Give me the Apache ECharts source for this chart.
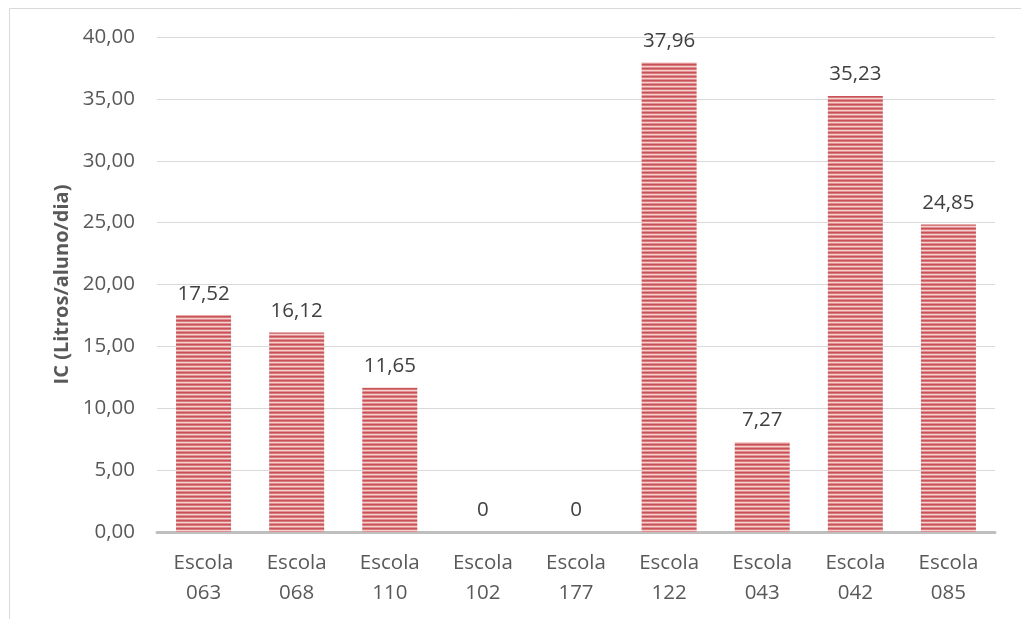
<!DOCTYPE html>
<html>
<head>
<meta charset="utf-8">
<script src="https://cdn.jsdelivr.net/npm/echarts@6/dist/echarts.min.js"></script>
<style>html,body{margin:0;padding:0;background:#fff;}#c{width:1021px;height:619px;}</style>
</head>
<body>
<div id="c"></div>
<script>
var categories = ['Escola\n063','Escola\n068','Escola\n110','Escola\n102','Escola\n177','Escola\n122','Escola\n043','Escola\n042','Escola\n085'];
var values = [17.52, 16.12, 11.65, 0, 0, 37.96, 7.27, 35.23, 24.85];
var yTicks = [0, 5, 10, 15, 20, 25, 30, 35, 40];

var pc = document.createElement('canvas');
pc.width = 4; pc.height = 4;
var px = pc.getContext('2d');
var rows = ['#c65356', '#d9797c', '#f4d0d1', '#e09092'];
for (var i = 0; i < 4; i++) { px.fillStyle = rows[i]; px.fillRect(0, i, 4, 1); }

function fmt(v){ return v.toFixed(2).replace('.', ','); }

var chart = echarts.init(document.getElementById('c'));
chart.setOption({
  animation: false,
  graphic: [{
    type: 'rect', shape: {x: 9.5, y: 8.5, width: 1030, height: 630},
    style: {fill: 'none', stroke: '#d9d9d9', lineWidth: 1}
  }],
  grid: {left: 157, right: 26, top: 37, bottom: 87},
  xAxis: {
    type: 'category', data: categories,
    axisLine: {lineStyle: {color: '#bfbfbf', width: 3}},
    axisTick: {show: false},
    axisLabel: {color: '#595959', fontSize: 20.5, fontFamily: 'Open Sans', lineHeight: 30, margin: 16}
  },
  yAxis: {
    type: 'value', min: yTicks[0], max: yTicks[yTicks.length-1], interval: 5,
    name: 'IC (Litros/aluno/dia)', nameLocation: 'middle', nameGap: 81,
    nameTextStyle: {color: '#595959', fontSize: 20, fontWeight: 'bold', fontFamily: 'Open Sans'},
    axisLine: {show: false}, axisTick: {show: false},
    axisLabel: {color: '#595959', fontSize: 20.5, fontFamily: 'Open Sans', margin: 22, formatter: function(v){ return fmt(v); }},
    splitLine: {lineStyle: {color: '#d9d9d9', width: 1}}
  },
  series: [{
    type: 'bar', data: values, barWidth: 55,
    itemStyle: {color: {image: pc, repeat: 'repeat'}},
    label: {
      show: true, position: 'top', distance: 11, color: '#404040', fontSize: 20.5, fontFamily: 'Open Sans',
      formatter: function(p){ return p.value === 0 ? '0' : fmt(p.value); }
    }
  }]
});
</script>
</body>
</html>
